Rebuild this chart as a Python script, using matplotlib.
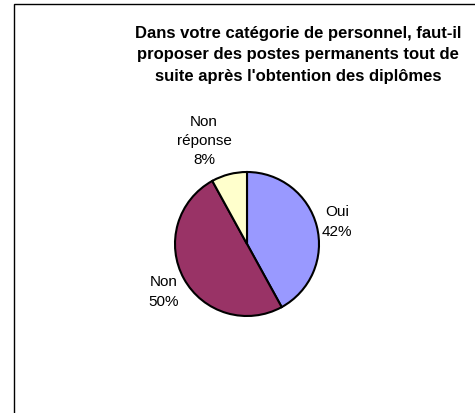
import matplotlib
matplotlib.use('Agg')
import matplotlib.pyplot as plt
from matplotlib.patches import Rectangle

# data
categories = ['Oui', 'Non', 'Non\nréponse']
values = [42, 50, 8]
colors = ['#9999FF', '#993366', '#FFFFCC']
title = ("Dans votre catégorie de personnel, faut-il\n"
         "proposer des postes permanents tout de\n"
         "suite après l'obtention des diplômes")

W, H = 475, 414
plt.rcParams['font.family'] = ['Liberation Sans', 'DejaVu Sans']

fig = plt.figure(figsize=(W / 100, H / 100), dpi=100)
ax = fig.add_axes([0, 0, 1, 1])

# pie in pixel units (y flipped: y = H - py)
cx, cy, r = 247, H - 245, 72
wedges, texts = ax.pie(values, colors=colors, startangle=90, counterclock=False,
                       center=(cx, cy), radius=r,
                       labels=[f'{c}\n{v}%' for c, v in zip(categories, values)],
                       wedgeprops=dict(edgecolor='black', linewidth=1.5),
                       textprops=dict(fontsize=11, ha='center', va='center',
                                      linespacing=1.5))
# label centres (pixels)
label_pos = [(337, 222), (164, 292), (204, 141)]
for t, (px, py) in zip(texts, label_pos):
    t.set_position((px, H - py))
    t.set_ha('center')
    t.set_va('center')

ax.text(298, H - 55, title, ha='center', va='center', fontsize=12,
        fontweight='bold', linespacing=1.55)

ax.set_xlim(0, W)
ax.set_ylim(0, H)
ax.set_aspect('equal')
ax.axis('off')

# chart border (runs off right and bottom edges)
ax.add_patch(Rectangle((14, -10), W + 10, H - 5 + 10, fill=False,
                       edgecolor='black', linewidth=1.0, clip_on=False))

fig.savefig('out.png', dpi=100)
